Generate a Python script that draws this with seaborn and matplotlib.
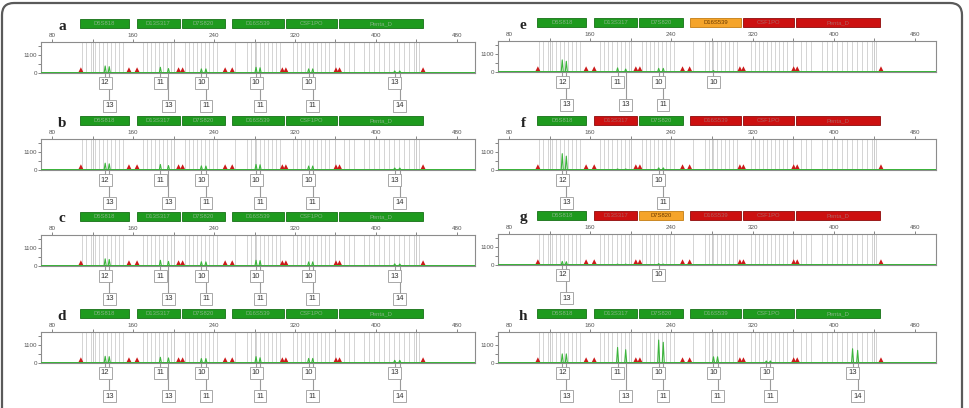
import matplotlib
matplotlib.use("Agg")
import matplotlib.pyplot as plt
import matplotlib.transforms as mtransforms
from matplotlib.patches import FancyBboxPatch, Rectangle
import pandas as pd
import seaborn as sns

# ===== DATA =====
LOCI = ["D5S818", "D13S317", "D7S820", "D16S539", "CSF1PO", "Penta_D"]
LOCUS_START = [108, 164, 208, 258, 311, 363]
LOCUS_END = [156, 206, 251, 309, 361, 446]

# allele bins (bp) drawn as grey lines
BINS_D5S818 = [110, 114, 118, 122, 126, 130, 134, 138, 142, 146, 150]
BINS_D13S317 = [170, 174, 178, 182, 186, 190, 194, 198]
BINS_D7S820 = [211, 215, 219, 223, 227, 231, 235, 239, 243]
BINS_D16S539 = [261, 273, 277, 281, 285, 289, 293, 297, 301, 305]
BINS_CSF1PO = [318, 322, 326, 330, 334, 338, 342, 346, 350, 354]
BINS_PENTA_D = [368, 373, 378, 388, 393, 398, 403, 408, 413, 418, 423, 428, 433, 438, 442]

# internal size standard peaks (red)
LADDER_PEAKS = [108.5, 156, 164, 205, 209, 251, 258, 307.5, 311, 360.5, 364, 446.5]
LADDER_HEIGHT = 330

# alleles per locus and their sizes (bp)
ALLELES = [(12, 13), (11, 13), (10, 11), (10, 11), (10, 11), (13, 14)]
ALLELE_SIZE = [(132.5, 136.5), (187, 195), (227.5, 232), (281.5, 285.5), (333.5, 337.5), (418.5, 423.5)]

PANELS = ["a", "b", "c", "d", "e", "f", "g", "h"]

# locus box colour per panel: G = green, O = orange, R = red
STATUS_A = ["G", "G", "G", "G", "G", "G"]
STATUS_E = ["G", "G", "G", "O", "R", "R"]
STATUS_F = ["G", "R", "G", "R", "R", "R"]
STATUS_G = ["G", "R", "O", "R", "R", "R"]

# peak heights (RFU), two alleles per locus
HEIGHTS_A = [410, 370, 330, 250, 230, 230, 330, 300, 230, 230, 100, 100]
HEIGHTS_B = [400, 360, 320, 250, 230, 220, 320, 300, 220, 220, 100, 100]
HEIGHTS_C = [420, 380, 330, 260, 240, 230, 330, 310, 230, 230, 110, 100]
HEIGHTS_D = [390, 370, 330, 290, 250, 250, 370, 300, 260, 260, 140, 140]
HEIGHTS_E = [725, 640, 230, 160, 200, 200, 60, 0, 0, 0, 0, 0]
HEIGHTS_F = [990, 835, 40, 40, 110, 110, 0, 0, 0, 0, 0, 0]
HEIGHTS_G = [200, 180, 30, 30, 60, 30, 0, 0, 0, 0, 0, 0]
HEIGHTS_H = [540, 540, 940, 800, 1400, 1260, 360, 360, 100, 100, 860, 760]

# number of allele calls shown per locus
CALLS_FULL = [2, 2, 2, 2, 2, 2]
CALLS_E = [2, 2, 2, 1, 0, 0]
CALLS_F = [2, 0, 2, 0, 0, 0]
CALLS_G = [2, 0, 1, 0, 0, 0]

PANEL_STATUS = [STATUS_A, STATUS_A, STATUS_A, STATUS_A, STATUS_E, STATUS_F, STATUS_G, STATUS_A]
PANEL_HEIGHTS = [HEIGHTS_A, HEIGHTS_B, HEIGHTS_C, HEIGHTS_D, HEIGHTS_E, HEIGHTS_F, HEIGHTS_G, HEIGHTS_H]
PANEL_CALLS = [CALLS_FULL, CALLS_FULL, CALLS_FULL, CALLS_FULL, CALLS_E, CALLS_F, CALLS_G, CALLS_FULL]

BOX_FACE = {"G": "#1e9a1e", "O": "#f5a42a", "R": "#cc1010"}
BOX_EDGE = {"G": "#167016", "O": "#c47d12", "R": "#8e0a0a"}
BOX_TEXT = {"G": "#86b486", "O": "#6a3a00", "R": "#b06060"}

# ===== LAYOUT (pixels) =====
W, H = 969, 408
COL_X = [41, 498]
COL_W = [434, 438]
COL_XLIM = [(69.1, 497.8), (69.2, 500.7)]
ROW_TOP = [[42, 139, 235, 332], [41, 139, 234, 332]]
PH = 31

sns.set_theme(style="white")
plt.rcParams["font.family"] = ["Liberation Sans", "DejaVu Sans"]

fig = plt.figure(figsize=(W / 100, H / 100), dpi=100)
fig.patch.set_facecolor("white")

frame = FancyBboxPatch((0.02, -0.4), 9.6, 4.45, boxstyle="round,pad=0,rounding_size=0.12",
                       transform=fig.dpi_scale_trans, fc="none", ec="#5a5a5a", lw=1.6)
fig.patches.append(frame)

all_bins = BINS_D5S818 + BINS_D13S317 + BINS_D7S820 + BINS_D16S539 + BINS_CSF1PO + BINS_PENTA_D

for i, letter in enumerate(PANELS):
    col, row = divmod(i, 4)
    top = ROW_TOP[col][row]
    ax = fig.add_axes([COL_X[col] / W, 1 - (top + PH) / H, COL_W[col] / W, PH / H])
    ax.set_xlim(*COL_XLIM[col])
    ax.set_ylim(-25, 1900)
    blend = mtransforms.blended_transform_factory(ax.transData, ax.transAxes)

    # bins
    ax.vlines(all_bins, 0, 1870, color="#cdcdcd", lw=0.6, zorder=0)
    ax.vlines([120, 200, 280, 360, 440], 0, 1870, color="#c2c2c2", lw=0.6, zorder=0)

    # size standard
    for p in LADDER_PEAKS:
        ax.fill([p - 2.6, p, p + 2.6], [0, LADDER_HEIGHT, 0], color="#cc1a1a", lw=0, zorder=3)

    # green trace
    heights = PANEL_HEIGHTS[i]
    xs, ys = [COL_XLIM[col][0]], [0]
    for k, (s1, s2) in enumerate(ALLELE_SIZE):
        for s, h in ((s1, heights[2 * k]), (s2, heights[2 * k + 1])):
            xs += [s - 1.0, s, s + 1.0]
            ys += [0, h, 0]
    xs.append(COL_XLIM[col][1])
    ys.append(0)
    trace = pd.DataFrame({"x": xs, "y": ys})
    ax.axhline(0, color="#2f8f2f", lw=1.3, zorder=2)
    sns.lineplot(data=trace, x="x", y="y", ax=ax, color="#3cb43c", lw=0.8,
                 estimator=None, sort=False, zorder=4)

    # axes styling
    ax.set_xlabel("")
    ax.set_ylabel("")
    ax.xaxis.tick_top()
    ax.set_xticks([80, 160, 240, 320, 400, 480])
    ax.set_xticks([120, 200, 280, 360, 440], minor=True)
    ax.set_yticks([0, 1100])
    ax.set_yticks([550, 1650], minor=True)
    ax.tick_params(axis="x", which="both", top=True, bottom=False, labeltop=True,
                   labelbottom=False, length=2, width=0.5, pad=1, labelsize=4.5,
                   colors="#555555")
    ax.tick_params(axis="y", which="both", left=True, length=2, width=0.5, pad=1,
                   labelsize=4.5, colors="#555555")
    for sp in ax.spines.values():
        sp.set_color("#8c8c8c")
        sp.set_linewidth(0.8)

    # locus boxes
    status = PANEL_STATUS[i]
    for name, x0, x1, st in zip(LOCI, LOCUS_START, LOCUS_END, status):
        ax.add_patch(Rectangle((x0, 1 + 14 / PH), x1 - x0, 9 / PH, transform=blend,
                               clip_on=False, fc=BOX_FACE[st], ec=BOX_EDGE[st], lw=0.6))
        ax.text((x0 + x1) / 2, 1 + 18.5 / PH, name, transform=blend, ha="center",
                va="center", fontsize=4.2, color=BOX_TEXT[st], clip_on=False)

    ax.text(0.048 if col == 0 else 0.057, 1 + 16 / PH, letter, transform=ax.transAxes,
            ha="center", va="center", fontsize=11, fontweight="bold",
            family=["Liberation Serif", "DejaVu Serif"], color="#222222")

    # allele call boxes
    calls = PANEL_CALLS[i]
    for (a1, a2), (s1, s2), n in zip(ALLELES, ALLELE_SIZE, calls):
        if n == 0:
            continue
        y1, y2 = -10 / PH, -33 / PH
        ax.plot([s1, s1], [0, y1], transform=blend, color="#9a9a9a", lw=0.8,
                clip_on=False, zorder=1)
        ax.text(s1, y1, str(a1), transform=blend, ha="center", va="center",
                fontsize=5.5, color="#333333", clip_on=False, zorder=5,
                bbox=dict(boxstyle="square,pad=0.3", fc="white", ec="#9a9a9a", lw=0.6))
        if n == 2:
            ax.plot([s2, s2], [0, y2], transform=blend, color="#9a9a9a", lw=0.8,
                    clip_on=False, zorder=1)
            ax.text(s2, y2, str(a2), transform=blend, ha="center", va="center",
                    fontsize=5.5, color="#333333", clip_on=False, zorder=5,
                    bbox=dict(boxstyle="square,pad=0.3", fc="white", ec="#9a9a9a", lw=0.6))

fig.savefig("out.png", dpi=100)
